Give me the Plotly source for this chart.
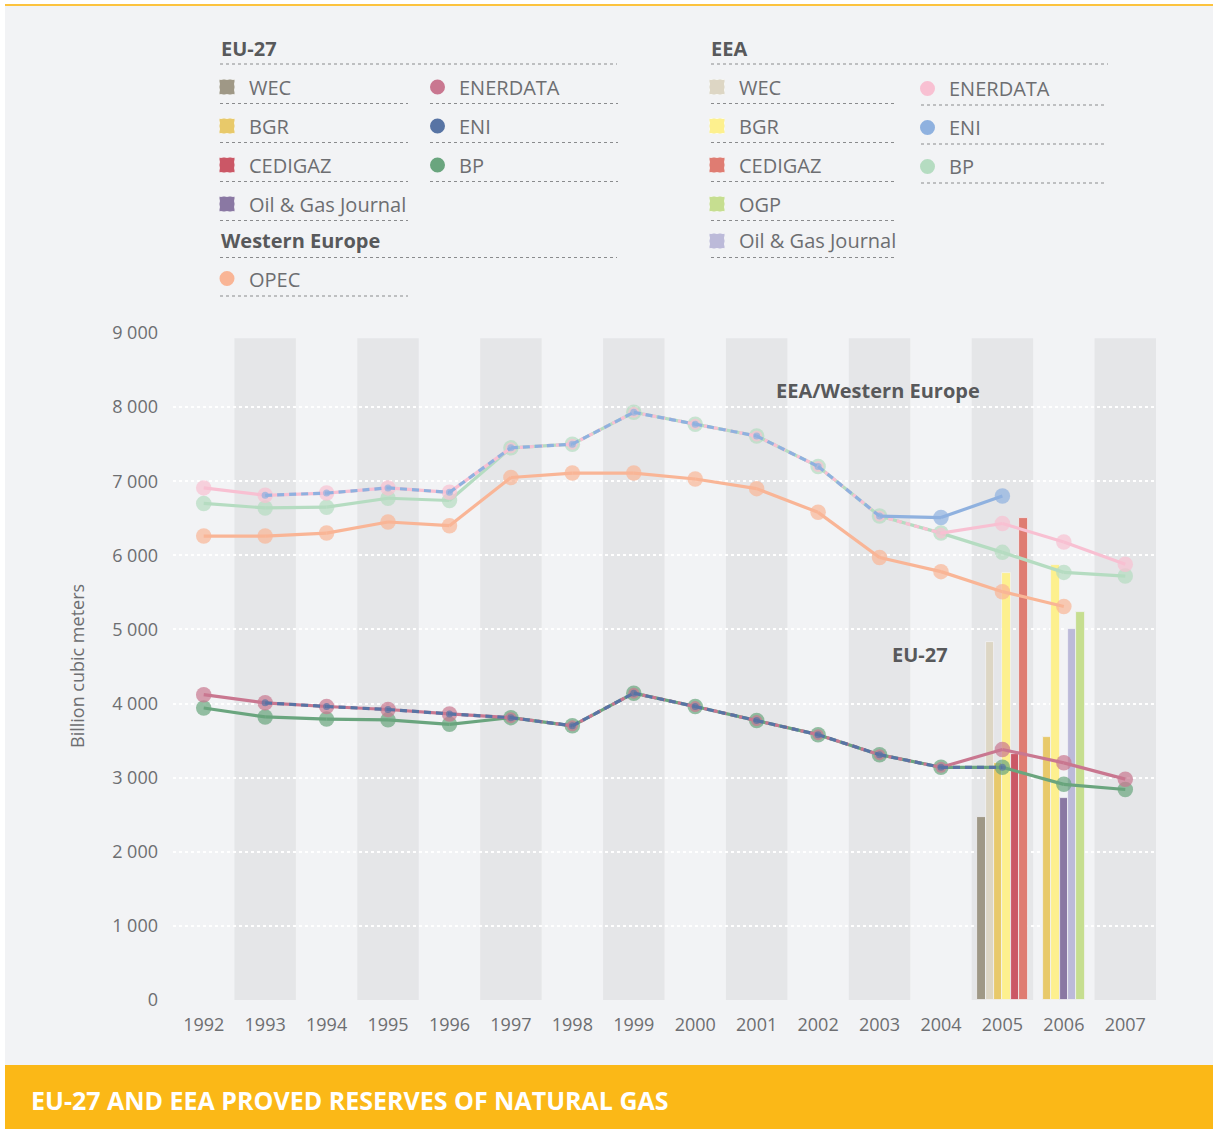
import plotly.graph_objects as go

# ---------------- data ----------------
years = [1992, 1993, 1994, 1995, 1996, 1997, 1998, 1999, 2000, 2001, 2002, 2003, 2004, 2005, 2006, 2007]
year_labels = ["1992", "1993", "1994", "1995", "1996", "1997", "1998", "1999", "2000", "2001",
               "2002", "2003", "2004", "2005", "2006", "2007"]
y_tick_values = [0, 1000, 2000, 3000, 4000, 5000, 6000, 7000, 8000, 9000]
y_tick_labels = ["0", "1 000", "2 000", "3 000", "4 000", "5 000", "6 000", "7 000", "8 000", "9 000"]

# EU-27 line series (billion cubic meters)
eu_enerdata = [4120, 4010, 3960, 3920, 3860, 3810, 3700, 4140, 3960, 3770, 3580, 3310, 3140, 3380, 3200, 2980]
eu_eni      = [None, 4010, 3960, 3920, 3860, 3810, 3700, 4140, 3960, 3770, 3580, 3310, 3140, 3140, None, None]
eu_bp       = [3940, 3820, 3790, 3780, 3720, 3810, 3700, 4140, 3960, 3770, 3580, 3310, 3140, 3140, 2910, 2840]

# EEA line series
eea_enerdata = [6910, 6810, 6840, 6910, 6850, 7450, 7500, 7930, 7770, 7610, 7200, 6530, 6300, 6430, 6180, 5880]
eea_eni      = [None, 6810, 6840, 6910, 6850, 7450, 7500, 7930, 7770, 7610, 7200, 6530, 6510, 6800, None, None]
eea_bp       = [6700, 6640, 6650, 6770, 6740, 7450, 7500, 7930, 7770, 7610, 7200, 6530, 6300, 6040, 5770, 5720]

# Western Europe
we_opec = [6260, 6260, 6300, 6450, 6400, 7050, 7110, 7110, 7030, 6900, 6580, 5970, 5780, 5510, 5310, None]

# bar series
eu_wec      = [None, None, None, None, None, None, None, None, None, None, None, None, None, 2470, None, None]
eea_wec     = [None, None, None, None, None, None, None, None, None, None, None, None, None, 4830, None, None]
eu_bgr      = [None, None, None, None, None, None, None, None, None, None, None, None, None, 3200, 3550, None]
eea_bgr     = [None, None, None, None, None, None, None, None, None, None, None, None, None, 5760, 5870, None]
eu_cedigaz  = [None, None, None, None, None, None, None, None, None, None, None, None, None, 3320, None, None]
eea_cedigaz = [None, None, None, None, None, None, None, None, None, None, None, None, None, 6500, None, None]
eu_ogj      = [None, None, None, None, None, None, None, None, None, None, None, None, None, None, 2720, None]
eea_ogj     = [None, None, None, None, None, None, None, None, None, None, None, None, None, None, 5000, None]
eea_ogp     = [None, None, None, None, None, None, None, None, None, None, None, None, None, None, 5230, None]

# ---------------- styling ----------------
C = {
    "eu_wec": "#9f9886", "eea_wec": "#ddd6c4",
    "eu_bgr": "#e8c96a", "eea_bgr": "#fdf08e",
    "eu_ced": "#cb5766", "eea_ced": "#df7c72",
    "eu_ogj": "#8a78a3", "eea_ogj": "#bcbad9",
    "eea_ogp": "#c6de90",
    "eu_ener": "#c97790", "eu_eni": "#5874a4", "eu_bp": "#6aa57e",
    "eea_ener": "#f8c0d2", "eea_eni": "#8fb1df", "eea_bp": "#b5dcc1",
    "opec": "#f9b596",
}
BG = "#f2f3f5"
BAND = "#e5e6e8"
TXT = "#6d6e71"
HEAD = "#58595b"
FONT = "Open Sans, Noto Sans, sans-serif"

W_FIG, H_FIG = 1213, 1129
L, R, T, B = 173, 1156, 333, 1000


def px(x):
    return (x - L) / (R - L)


def py(y):
    return (B - y) / (B - T)


fig = go.Figure()

# ---------------- bars ----------------
bar_series = [
    (eu_wec, C["eu_wec"]), (eea_wec, C["eea_wec"]),
    (eu_bgr, C["eu_bgr"]), (eea_bgr, C["eea_bgr"]),
    (eu_cedigaz, C["eu_ced"]), (eea_cedigaz, C["eea_ced"]),
    (eu_ogj, C["eu_ogj"]), (eea_ogj, C["eea_ogj"]),
    (eea_ogp, C["eea_ogp"]),
]
px_per_year = (R - L) / 16.0
slot_w = 8.4 / px_per_year
offsets = [[None] * len(years) for _ in bar_series]
for i in range(len(years)):
    present = [k for k, (vals, _) in enumerate(bar_series) if vals[i] is not None]
    n = len(present)
    for j, k in enumerate(present):
        offsets[k][i] = (j - n / 2.0) * slot_w
for k, (vals, col) in enumerate(bar_series):
    offs = [o if o is not None else 0 for o in offsets[k]]
    fig.add_trace(go.Bar(x=years, y=vals, offset=offs, width=slot_w,
                         marker=dict(color=col, line=dict(color=BG, width=0.8)),
                         hoverinfo="skip", showlegend=False))

# ---------------- lines ----------------
def add_line_group(group):
    drawn = []
    for vals, color, ov_size, ov_dash in group:
        sx, sy, dx, dy = [], [], [], []
        for i in range(len(years) - 1):
            if vals[i] is None or vals[i + 1] is None:
                continue
            seg_ov = any(d[i] == vals[i] and d[i + 1] == vals[i + 1] for d in drawn)
            tx, ty = (dx, dy) if seg_ov else (sx, sy)
            tx += [years[i], years[i + 1], None]
            ty += [vals[i], vals[i + 1], None]
        if sx:
            fig.add_trace(go.Scatter(x=sx, y=sy, mode="lines", line=dict(color=color, width=3.2),
                                     hoverinfo="skip", showlegend=False))
        if dx:
            fig.add_trace(go.Scatter(x=dx, y=dy, mode="lines",
                                     line=dict(color=color, width=3.2, dash=ov_dash),
                                     hoverinfo="skip", showlegend=False))
        sizes = []
        for i in range(len(years)):
            ov = vals[i] is not None and any(d[i] == vals[i] for d in drawn)
            sizes.append(ov_size if ov else 15.5)
        fig.add_trace(go.Scatter(x=years, y=vals, mode="markers",
                                 marker=dict(size=sizes, color=color, line=dict(width=0)),
                                 hoverinfo="skip", showlegend=False))
        drawn.append(vals)


add_line_group([(we_opec, C["opec"], 15.5, "solid")])
add_line_group([
    (eea_bp, C["eea_bp"], 15.5, "solid"),
    (eea_enerdata, C["eea_ener"], 11, "5px,4px"),
    (eea_eni, C["eea_eni"], 7, "7px,5px"),
])
add_line_group([
    (eu_bp, C["eu_bp"], 15.5, "solid"),
    (eu_enerdata, C["eu_ener"], 11, "5px,4px"),
    (eu_eni, C["eu_eni"], 7, "7px,5px"),
])

# ---------------- shapes ----------------
shapes = []
# page background and frame
shapes.append(dict(type="rect", xref="paper", yref="paper", x0=px(5), x1=px(W_FIG), y0=py(1066), y1=py(6),
                   fillcolor=BG, line=dict(width=0), layer="below"))
shapes.append(dict(type="line", xref="paper", yref="paper", x0=px(5), x1=px(W_FIG), y0=py(5), y1=py(5),
                   line=dict(color="#fcc33e", width=2), layer="below"))
shapes.append(dict(type="rect", xref="paper", yref="paper", x0=px(5), x1=px(W_FIG), y0=py(H_FIG), y1=py(1065),
                   fillcolor="#fbb817", line=dict(width=0), layer="below"))
# alternating year bands
for k, yv in enumerate(years):
    if k % 2 == 1:
        shapes.append(dict(type="rect", xref="x", yref="y", x0=yv - 0.5, x1=yv + 0.5, y0=0, y1=8930,
                           fillcolor=BAND, line=dict(width=0), layer="below"))

annotations = []


def dotted(x0, x1, y):
    shapes.append(dict(type="line", xref="paper", yref="paper", x0=px(x0), x1=px(x1), y0=py(y), y1=py(y),
                       line=dict(color="#8a8b8d", width=1, dash="dot")))


def square(cx, cy, color):
    shapes.append(dict(type="rect", xref="paper", yref="paper", x0=px(cx - 7.5), x1=px(cx + 7.5),
                       y0=py(cy + 7.5), y1=py(cy - 7.5), fillcolor=color,
                       line=dict(color="rgba(255,255,255,0.6)", width=1, dash="dot")))


def circle(cx, cy, color):
    shapes.append(dict(type="circle", xref="paper", yref="paper", x0=px(cx - 7.5), x1=px(cx + 7.5),
                       y0=py(cy + 7.5), y1=py(cy - 7.5), fillcolor=color, line=dict(width=0)))


def text(x, y, s, bold=False, size=20, color=TXT, anchor="left"):
    annotations.append(dict(xref="paper", yref="paper", x=px(x), y=py(y), text=("<b>%s</b>" % s) if bold else s,
                            showarrow=False, xanchor=anchor, yanchor="middle",
                            font=dict(family=FONT, size=size, color=color)))


# EU-27 block
text(219, 48, "EU-27", bold=True, color=HEAD)
dotted(220, 617, 64)
eu_col1 = [("WEC", C["eu_wec"], 87), ("BGR", C["eu_bgr"], 126), ("CEDIGAZ", C["eu_ced"], 165),
           ("Oil &amp; Gas Journal", C["eu_ogj"], 204)]
for name, col, yy in eu_col1:
    square(227, yy, col)
    text(247, yy, name)
    dotted(220, 408, yy + 16.5)
eu_col2 = [("ENERDATA", C["eu_ener"], 87), ("ENI", C["eu_eni"], 126), ("BP", C["eu_bp"], 165)]
for name, col, yy in eu_col2:
    circle(437.5, yy, col)
    text(457, yy, name)
    dotted(430, 618, yy + 16.5)
text(219, 241, "Western Europe", bold=True, color=HEAD)
dotted(220, 617, 257.5)
circle(227, 278.5, C["opec"])
text(247, 279, "OPEC")
dotted(220, 408, 296)

# EEA block
text(709, 48, "EEA", bold=True, color=HEAD)
dotted(711, 1108, 64)
eea_col1 = [("WEC", C["eea_wec"], 87), ("BGR", C["eea_bgr"], 126), ("CEDIGAZ", C["eea_ced"], 165),
            ("OGP", C["eea_ogp"], 204), ("Oil &amp; Gas Journal", C["eea_ogj"], 241)]
for name, col, yy in eea_col1:
    square(717, yy, col)
    text(737, yy, name)
    dotted(711, 896, yy + 16.5)
eea_col2 = [("ENERDATA", C["eea_ener"], 88.5), ("ENI", C["eea_eni"], 127.5), ("BP", C["eea_bp"], 166.5)]
for name, col, yy in eea_col2:
    circle(927.5, yy, col)
    text(947, yy, name)
    dotted(921, 1106, yy + 16.5)

# in-chart labels
text(878, 390, "EEA/Western Europe", bold=True, color=HEAD, anchor="center")
text(919.5, 654, "EU-27", bold=True, color=HEAD, anchor="center")

# axis title
annotations.append(dict(xref="paper", yref="paper", x=px(77), y=py(666), text="Billion cubic meters",
                        textangle=-90, showarrow=False, xanchor="center", yanchor="middle",
                        font=dict(family=FONT, size=18, color=TXT)))

# banner title
annotations.append(dict(xref="paper", yref="paper", x=px(29), y=py(1100),
                        text="<b>EU-27 AND EEA PROVED RESERVES OF NATURAL GAS</b>",
                        showarrow=False, xanchor="left", yanchor="middle",
                        font=dict(family=FONT, size=25, color="white")))

fig.update_layout(
    width=W_FIG, height=H_FIG,
    margin=dict(l=L, r=W_FIG - R, t=T, b=H_FIG - B, pad=0),
    paper_bgcolor="white", plot_bgcolor="rgba(0,0,0,0)",
    barmode="overlay", bargap=0,
    shapes=shapes, annotations=annotations,
    font=dict(family=FONT, color=TXT),
    showlegend=False,
)
fig.update_xaxes(range=[1991.5, 2007.5], tickvals=years, ticktext=year_labels, showgrid=False,
                 zeroline=False, showline=False, ticks="", ticklabelstandoff=12,
                 tickfont=dict(family=FONT, size=18, color=TXT), fixedrange=True)
fig.update_yaxes(range=[0, 9000], tickvals=y_tick_values, ticktext=y_tick_labels, showgrid=True,
                 gridcolor="white", gridwidth=1.5, griddash="3px,3px", zeroline=False, showline=False,
                 ticks="", ticklabelstandoff=14, tickfont=dict(family=FONT, size=18, color=TXT),
                 fixedrange=True)

fig.write_html("out.html", config={"displayModeBar": False},
               post_script="document.body.style.margin='0px';document.body.style.overflow='hidden';")
